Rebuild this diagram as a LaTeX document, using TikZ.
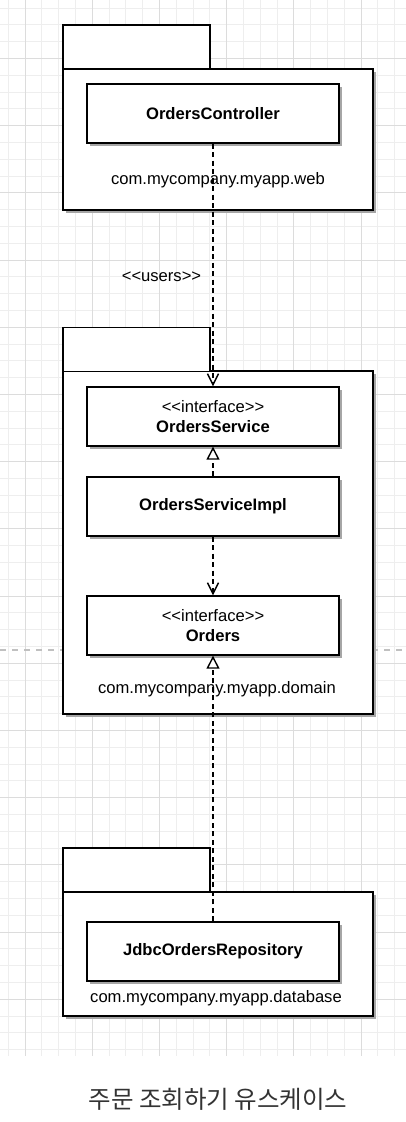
\documentclass[tikz,border=0pt]{standalone}
\usepackage{fontspec}
\setmainfont{Liberation Sans}
\newfontfamily\kofont{Noto Sans CJK KR}
\usetikzlibrary{shapes,arrows.meta,shadows}

\definecolor{gridminor}{HTML}{EEEEEE}
\definecolor{gridmajor}{HTML}{DCDCDC}
\definecolor{pagebreak}{HTML}{C0C0C0}
\definecolor{captiontext}{HTML}{333333}

\tikzset{
  umltext/.style={font=\fontsize{16.6}{19.5}\selectfont,text=black,align=center},
  pkgtab/.style={shape=rectangle,draw=black,fill=white,line width=1.4pt,inner sep=0pt,minimum width=147pt,minimum height=44pt},
  pkgbody/.style={shape=rectangle,draw=black,fill=white,line width=1.4pt,inner sep=0pt,minimum width=310pt,
    drop shadow={shadow xshift=3pt,shadow yshift=-3pt,fill=black!35,opacity=1}},
  umlclass/.style={umltext,shape=rectangle,draw=black,fill=white,line width=1.4pt,inner sep=0pt,minimum width=252pt,minimum height=59pt,
    drop shadow={shadow xshift=3pt,shadow yshift=-3pt,fill=black!35,opacity=1}},
  dependency/.style={-{Straight Barb[length=11pt,width=11pt]},draw=black,line width=1.4pt,dash pattern=on 5pt off 3.5pt},
  realization/.style={-{Triangle[open,length=13pt,width=13pt,fill=white]},draw=black,line width=1.4pt,dash pattern=on 5pt off 3.5pt}
}

\begin{document}
\begin{tikzpicture}[x=1pt,y=-1pt]
\useasboundingbox[fill=white] (0,0) rectangle (406,1122);

% background grid
\foreach \i in {0,...,23} \draw[gridminor,line width=0.8pt] ({8.2+16.8*\i},0) -- ({8.2+16.8*\i},1055.7);
\foreach \j in {0,...,62} \draw[gridminor,line width=0.8pt] (0,{7.9+16.8*\j}) -- (406,{7.9+16.8*\j});
\foreach \i in {0,...,5} \draw[gridmajor,line width=0.8pt] ({25+67.2*\i},0) -- ({25+67.2*\i},1055.7);
\foreach \j in {0,...,14} \draw[gridmajor,line width=0.8pt] (0,{58.3+67.2*\j}) -- (406,{58.3+67.2*\j});
\draw[pagebreak,line width=1.2pt,dash pattern=on 6pt off 6pt] (0,650) -- (406,650);

% packages
\node[pkgbody,minimum height=141pt] (webpkg) at (218,139.5) {};
\node[pkgtab] (webtab) at (136.5,47) {};
\node[pkgbody,minimum height=343pt] (domainpkg) at (218,542.5) {};
\node[pkgtab] (domaintab) at (136.5,349.5) {};
\node[pkgbody,minimum height=124pt] (dbpkg) at (218,954) {};
\node[pkgtab] (dbtab) at (136.5,870) {};

\node[umltext] (weblabel) at (218,180) {com.mycompany.myapp.web};
\node[umltext] (domainlabel) at (217,689) {com.mycompany.myapp.domain};
\node[umltext] (dblabel) at (216,998) {com.mycompany.myapp.database};

% classes
\node[umlclass,font=\fontsize{16.6}{19.5}\selectfont\bfseries] (ctrl) at (213,113.5) {OrdersController};
\node[umlclass] (svc) at (213,416.5) {<\kern0pt<interface>\kern0pt>\\\textbf{OrdersService}};
\node[umlclass,font=\fontsize{16.6}{19.5}\selectfont\bfseries] (impl) at (213,506.5) {OrdersServiceImpl};
\node[umlclass] (ords) at (213,625.5) {<\kern0pt<interface>\kern0pt>\\\textbf{Orders}};
\node[umlclass,font=\fontsize{16.6}{19.5}\selectfont\bfseries] (repo) at (213,951.5) {JdbcOrdersRepository};

% relations
\path [dependency] (ctrl) edge node {} (svc);
\path [realization] (impl) edge node {} (svc);
\path [dependency] (impl) edge node {} (ords);
\path [realization] (repo) edge node {} (ords);
\node[umltext] (uselabel) at (161.5,277) {<\kern0pt<users>\kern0pt>};

\node[font=\kofont\fontsize{24.5}{28}\selectfont,text=captiontext] (caption) at (218,1099) {주문 조회하기 유스케이스};
\end{tikzpicture}
\end{document}
